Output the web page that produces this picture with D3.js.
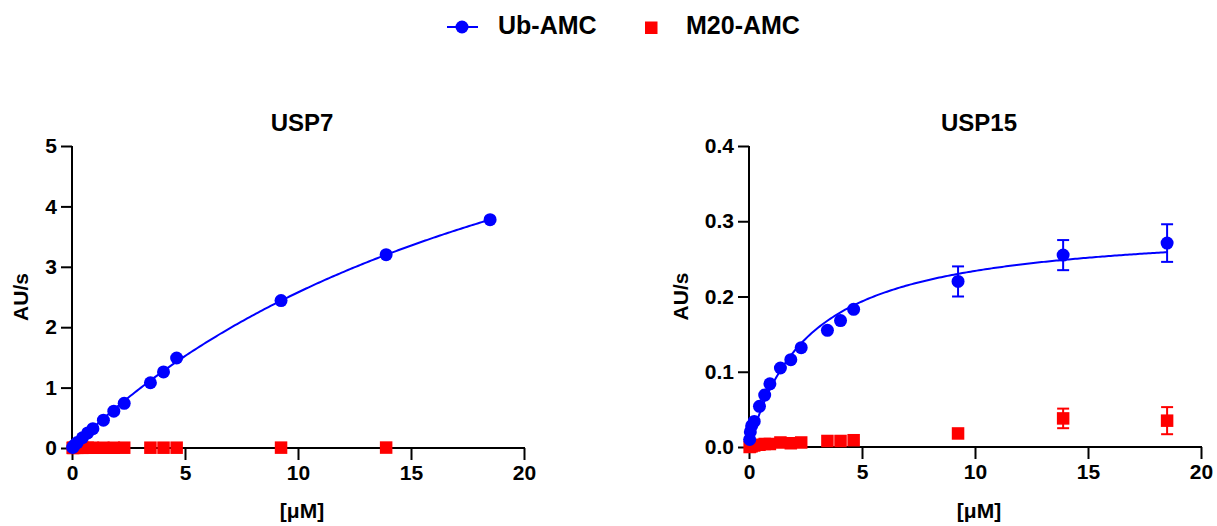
<!DOCTYPE html>
<html>
<head>
<meta charset="utf-8">
<script src="https://cdn.jsdelivr.net/npm/d3@7"></script>
<style>
  html, body { margin: 0; padding: 0; background: #fff; }
  svg { display: block; font-family: "Liberation Sans", Arial, Helvetica, sans-serif; font-weight: bold; }
</style>
</head>
<body>
<svg id="chart" width="1217" height="526"></svg>
<script>
// Substrate concentrations (µM)
const conc = [0.029, 0.058, 0.116, 0.231, 0.463, 0.694, 0.925, 1.39, 1.85, 2.31, 3.47, 4.05, 4.63, 9.25, 13.9, 18.5];

// USP7 initial rates (AU/s)
const usp7Ub  = [0.01, 0.02, 0.05, 0.09, 0.17, 0.25, 0.32, 0.46, 0.61, 0.74, 1.08, 1.26, 1.49, 2.44, 3.20, 3.78];
const usp7M20 = [0.002, 0.002, 0.003, 0.003, 0.003, 0.004, 0.004, 0.004, 0.004, 0.005, 0.005, 0.005, 0.005, 0.006, 0.007, null];

// USP15 initial rates (AU/s) with SD
const usp15Ub     = [0.010, 0.020, 0.028, 0.034, 0.054, 0.069, 0.084, 0.105, 0.116, 0.132, 0.155, 0.168, 0.183, 0.220, 0.255, 0.271];
const usp15UbErr  = [0, 0, 0, 0, 0, 0, 0, 0, 0, 0, 0, 0, 0, 0.020, 0.020, 0.025];
const usp15M20    = [0.000, 0.001, 0.001, 0.002, 0.003, 0.004, 0.004, 0.006, 0.005, 0.006, 0.008, 0.008, 0.009, 0.018, 0.038, 0.035];
const usp15M20Err = [0, 0, 0, 0, 0, 0, 0, 0, 0, 0, 0, 0, 0, 0, 0.013, 0.018];

// Michaelis–Menten fit parameters for Ub-AMC
const usp7Fit  = { vmax: 8.4,   km: 22.6 };
const usp15Fit = { vmax: 0.296, km: 2.65 };

const xTicks = [0, 5, 10, 15, 20];
const usp7YTicks  = [0, 1, 2, 3, 4, 5];
const usp15YTicks = [0, 0.1, 0.2, 0.3, 0.4];

const seriesNames = ["Ub-AMC", "M20-AMC"];
const BLUE = "#0000ff", RED = "#ff0000";

const svg = d3.select("#chart");

function panel(opts) {
  const x = d3.scaleLinear().domain([0, 20]).range([opts.x0, opts.x1]);
  const y = d3.scaleLinear().domain(opts.yDomain).range([opts.y0, opts.y1]);
  const g = svg.append("g");

  // axes
  const xAxis = d3.axisBottom(x).tickValues(xTicks).tickSize(12).tickSizeOuter(0).tickPadding(5).tickFormat(d3.format("d"));
  const yAxis = d3.axisLeft(y).tickValues(opts.yTicks).tickSize(11).tickSizeOuter(0).tickPadding(4).tickFormat(opts.yFormat);

  const gx = g.append("g").attr("transform", `translate(0,${opts.y0})`).call(xAxis);
  const gy = g.append("g").attr("transform", `translate(${opts.x0},0)`).call(yAxis);
  [gx, gy].forEach(a => {
    a.selectAll("path.domain").attr("stroke", "#000").attr("stroke-width", 2);
    a.selectAll(".tick line").attr("stroke", "#000").attr("stroke-width", 2);
    a.selectAll(".tick text").attr("fill", "#000").style("font-size", "21px").style("font-weight", "bold")
      .style("font-family", "Liberation Sans, Arial, sans-serif");
  });
  gx.select("path.domain").attr("d", `M${opts.x0 - 1},0H${opts.x1 + 1}`);
  gy.select("path.domain").attr("d", `M0,${opts.y0 + 1}V${opts.y1}`);

  // titles
  g.append("text").attr("x", (opts.x0 + opts.x1) / 2 + 4).attr("y", 131)
    .attr("text-anchor", "middle").style("font-size", "24px").text(opts.title);
  g.append("text").attr("x", (opts.x0 + opts.x1) / 2 + 4).attr("y", 518)
    .attr("text-anchor", "middle").style("font-size", "21px").text("[μM]");
  g.append("text").attr("transform", `translate(${opts.yLabelX},${(opts.y0 + opts.y1) / 2}) rotate(-90)`)
    .attr("text-anchor", "middle").style("font-size", "21px").text("AU/s");

  // fitted curve
  const fit = opts.fit;
  const maxC = d3.max(conc);
  const curve = d3.range(0, 201).map(i => {
    const c = maxC * i / 200;
    return [c, fit.vmax * c / (fit.km + c)];
  });
  g.append("path").datum(curve)
    .attr("fill", "none").attr("stroke", BLUE).attr("stroke-width", 2)
    .attr("d", d3.line().x(d => x(d[0])).y(d => y(d[1])));

  // error bars
  function errorBars(vals, errs, color) {
    const data = conc.map((c, i) => ({ c, v: vals[i], e: errs ? errs[i] : 0 }))
      .filter(d => d.v != null && d.e > 0);
    const eg = g.append("g").attr("stroke", color).attr("stroke-width", 2).attr("fill", "none");
    data.forEach(d => {
      const cx = x(d.c), yt = y(d.v + d.e), yb = y(d.v - d.e);
      eg.append("line").attr("x1", cx).attr("x2", cx).attr("y1", yt).attr("y2", yb);
      eg.append("line").attr("x1", cx - 6).attr("x2", cx + 6).attr("y1", yt).attr("y2", yt);
      eg.append("line").attr("x1", cx - 6).attr("x2", cx + 6).attr("y1", yb).attr("y2", yb);
    });
  }
  errorBars(opts.m20, opts.m20Err, RED);
  errorBars(opts.ub, opts.ubErr, BLUE);

  // M20-AMC squares
  const m20 = conc.map((c, i) => ({ c, v: opts.m20[i] })).filter(d => d.v != null);
  g.append("g").selectAll("rect").data(m20).join("rect")
    .attr("x", d => x(d.c) - 6.25).attr("y", d => y(d.v) - 6.25)
    .attr("width", 12.5).attr("height", 12.5).attr("fill", RED);

  // Ub-AMC circles
  const ub = conc.map((c, i) => ({ c, v: opts.ub[i] }));
  g.append("g").selectAll("circle").data(ub).join("circle")
    .attr("cx", d => x(d.c)).attr("cy", d => y(d.v)).attr("r", 6.5).attr("fill", BLUE);
}

panel({
  title: "USP7", x0: 72, x1: 524, y0: 448, y1: 146,
  yDomain: [0, 5], yTicks: usp7YTicks, yFormat: d3.format("d"), yLabelX: 28,
  ub: usp7Ub, m20: usp7M20, fit: usp7Fit
});

panel({
  title: "USP15", x0: 749, x1: 1201, y0: 447, y1: 146,
  yDomain: [0, 0.4], yTicks: usp15YTicks, yFormat: d3.format(".1f"), yLabelX: 688,
  ub: usp15Ub, ubErr: usp15UbErr, m20: usp15M20, m20Err: usp15M20Err, fit: usp15Fit
});

// legend
const lg = svg.append("g");
lg.append("line").attr("x1", 447).attr("x2", 478).attr("y1", 27).attr("y2", 27)
  .attr("stroke", BLUE).attr("stroke-width", 2);
lg.append("circle").attr("cx", 462).attr("cy", 27).attr("r", 6.5).attr("fill", BLUE);
lg.append("text").attr("x", 498).attr("y", 34).style("font-size", "25px").text(seriesNames[0]);
lg.append("rect").attr("x", 645).attr("y", 21.5).attr("width", 12.5).attr("height", 12.5).attr("fill", RED);
lg.append("text").attr("x", 686).attr("y", 34).style("font-size", "25px").text(seriesNames[1]);
</script>
</body>
</html>
